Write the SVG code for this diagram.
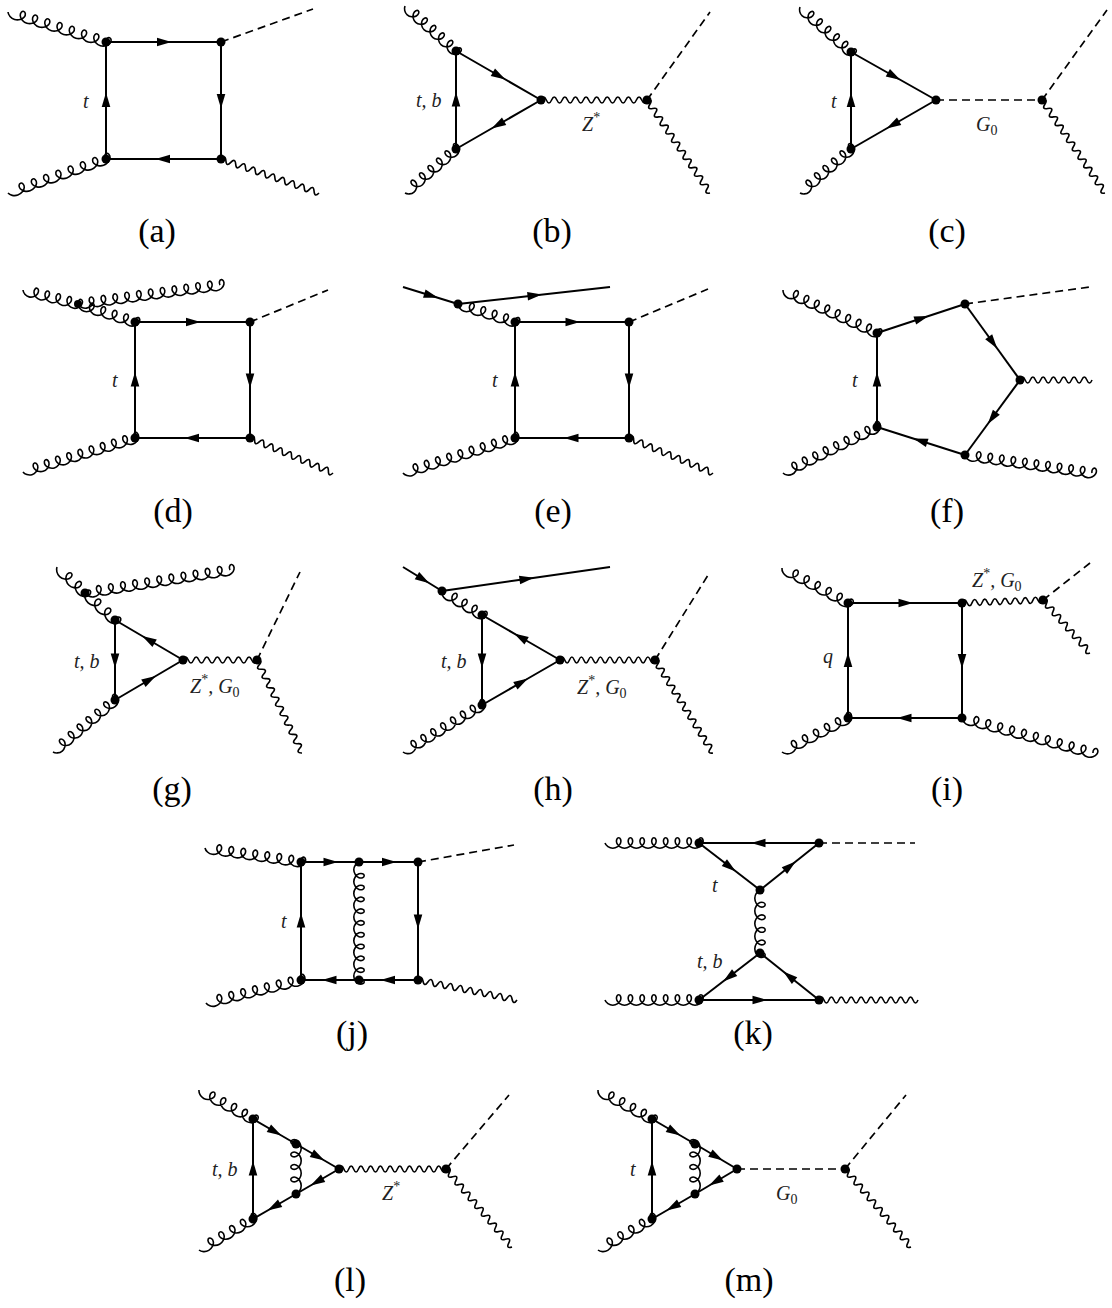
<svg xmlns="http://www.w3.org/2000/svg" xmlns:xlink="http://www.w3.org/1999/xlink" width="1112" height="1308" viewBox="0 0 1112 1308">
<style>
.f{fill:none;stroke:#000;stroke-width:2;marker-mid:url(#ar)}
.d{fill:none;stroke:#000;stroke-width:1.7;stroke-dasharray:8 5}
.g{fill:none;stroke:#000;stroke-width:1.6;vector-effect:non-scaling-stroke;stroke-linejoin:round}
.v{fill:#000}
.m{font-family:"Liberation Serif","Times New Roman",serif;font-style:italic;font-size:20px;fill:#222}
.sup,.sub{font-style:normal;font-size:14px}
.c{font-family:"Liberation Serif","Times New Roman",serif;font-size:34px;text-anchor:middle;fill:#000}
</style>
<defs>
<marker id="ar" markerUnits="userSpaceOnUse" viewBox="-10 -10 20 20" markerWidth="20" markerHeight="20" refX="0" refY="0" orient="auto" overflow="visible"><path d="M8,0 L-6.5,-4.3 L-6.5,4.3 Z" fill="#000"/></marker>
<path id="g3" class="g" d="M0,0c1.047,2.723 4.571,5.2 8.341,5.2 3.77,0 7.295,-2.477 8.342,-5.2 1.047,-2.723 -.383,-5.2 -2.059,-5.2 -1.676,0 -3.105,2.477 -2.058,5.2 1.047,2.723 4.571,5.2 8.341,5.2 3.77,0 7.295,-2.477 8.342,-5.2 1.047,-2.723 -.383,-5.2 -2.059,-5.2 -1.676,0 -3.105,2.477 -2.058,5.2 1.047,2.723 4.571,5.2 8.341,5.2 3.77,0 7.295,-2.477 8.342,-5.2 1.047,-2.723 -.383,-5.2 -2.059,-5.2 -1.676,0 -3.105,2.477 -2.058,5.2"/>
<path id="g4" class="g" d="M0,0c1.047,2.723 4.571,5.2 8.341,5.2 3.77,0 7.295,-2.477 8.342,-5.2 1.047,-2.723 -.383,-5.2 -2.059,-5.2 -1.676,0 -3.105,2.477 -2.058,5.2 1.047,2.723 4.571,5.2 8.341,5.2 3.77,0 7.295,-2.477 8.342,-5.2 1.047,-2.723 -.383,-5.2 -2.059,-5.2 -1.676,0 -3.105,2.477 -2.058,5.2 1.047,2.723 4.571,5.2 8.341,5.2 3.77,0 7.295,-2.477 8.342,-5.2 1.047,-2.723 -.383,-5.2 -2.059,-5.2 -1.676,0 -3.105,2.477 -2.058,5.2 1.047,2.723 4.571,5.2 8.341,5.2 3.77,0 7.295,-2.477 8.342,-5.2 1.047,-2.723 -.383,-5.2 -2.059,-5.2 -1.676,0 -3.105,2.477 -2.058,5.2"/>
<path id="g5" class="g" d="M0,0c1.047,2.723 4.571,5.2 8.341,5.2 3.77,0 7.295,-2.477 8.342,-5.2 1.047,-2.723 -.383,-5.2 -2.059,-5.2 -1.676,0 -3.105,2.477 -2.058,5.2 1.047,2.723 4.571,5.2 8.341,5.2 3.77,0 7.295,-2.477 8.342,-5.2 1.047,-2.723 -.383,-5.2 -2.059,-5.2 -1.676,0 -3.105,2.477 -2.058,5.2 1.047,2.723 4.571,5.2 8.341,5.2 3.77,0 7.295,-2.477 8.342,-5.2 1.047,-2.723 -.383,-5.2 -2.059,-5.2 -1.676,0 -3.105,2.477 -2.058,5.2 1.047,2.723 4.571,5.2 8.341,5.2 3.77,0 7.295,-2.477 8.342,-5.2 1.047,-2.723 -.383,-5.2 -2.059,-5.2 -1.676,0 -3.105,2.477 -2.058,5.2 1.047,2.723 4.571,5.2 8.341,5.2 3.77,0 7.295,-2.477 8.342,-5.2 1.047,-2.723 -.383,-5.2 -2.059,-5.2 -1.676,0 -3.105,2.477 -2.058,5.2"/>
<path id="g6" class="g" d="M0,0c1.047,2.723 4.571,5.2 8.341,5.2 3.77,0 7.295,-2.477 8.342,-5.2 1.047,-2.723 -.383,-5.2 -2.059,-5.2 -1.676,0 -3.105,2.477 -2.058,5.2 1.047,2.723 4.571,5.2 8.341,5.2 3.77,0 7.295,-2.477 8.342,-5.2 1.047,-2.723 -.383,-5.2 -2.059,-5.2 -1.676,0 -3.105,2.477 -2.058,5.2 1.047,2.723 4.571,5.2 8.341,5.2 3.77,0 7.295,-2.477 8.342,-5.2 1.047,-2.723 -.383,-5.2 -2.059,-5.2 -1.676,0 -3.105,2.477 -2.058,5.2 1.047,2.723 4.571,5.2 8.341,5.2 3.77,0 7.295,-2.477 8.342,-5.2 1.047,-2.723 -.383,-5.2 -2.059,-5.2 -1.676,0 -3.105,2.477 -2.058,5.2 1.047,2.723 4.571,5.2 8.341,5.2 3.77,0 7.295,-2.477 8.342,-5.2 1.047,-2.723 -.383,-5.2 -2.059,-5.2 -1.676,0 -3.105,2.477 -2.058,5.2 1.047,2.723 4.571,5.2 8.341,5.2 3.77,0 7.295,-2.477 8.342,-5.2 1.047,-2.723 -.383,-5.2 -2.059,-5.2 -1.676,0 -3.105,2.477 -2.058,5.2"/>
<path id="g7" class="g" d="M0,0c1.047,2.723 4.571,5.2 8.341,5.2 3.77,0 7.295,-2.477 8.342,-5.2 1.047,-2.723 -.383,-5.2 -2.059,-5.2 -1.676,0 -3.105,2.477 -2.058,5.2 1.047,2.723 4.571,5.2 8.341,5.2 3.77,0 7.295,-2.477 8.342,-5.2 1.047,-2.723 -.383,-5.2 -2.059,-5.2 -1.676,0 -3.105,2.477 -2.058,5.2 1.047,2.723 4.571,5.2 8.341,5.2 3.77,0 7.295,-2.477 8.342,-5.2 1.047,-2.723 -.383,-5.2 -2.059,-5.2 -1.676,0 -3.105,2.477 -2.058,5.2 1.047,2.723 4.571,5.2 8.341,5.2 3.77,0 7.295,-2.477 8.342,-5.2 1.047,-2.723 -.383,-5.2 -2.059,-5.2 -1.676,0 -3.105,2.477 -2.058,5.2 1.047,2.723 4.571,5.2 8.341,5.2 3.77,0 7.295,-2.477 8.342,-5.2 1.047,-2.723 -.383,-5.2 -2.059,-5.2 -1.676,0 -3.105,2.477 -2.058,5.2 1.047,2.723 4.571,5.2 8.341,5.2 3.77,0 7.295,-2.477 8.342,-5.2 1.047,-2.723 -.383,-5.2 -2.059,-5.2 -1.676,0 -3.105,2.477 -2.058,5.2 1.047,2.723 4.571,5.2 8.341,5.2 3.77,0 7.295,-2.477 8.342,-5.2 1.047,-2.723 -.383,-5.2 -2.059,-5.2 -1.676,0 -3.105,2.477 -2.058,5.2"/>
<path id="g8" class="g" d="M0,0c1.047,2.723 4.571,5.2 8.341,5.2 3.77,0 7.295,-2.477 8.342,-5.2 1.047,-2.723 -.383,-5.2 -2.059,-5.2 -1.676,0 -3.105,2.477 -2.058,5.2 1.047,2.723 4.571,5.2 8.341,5.2 3.77,0 7.295,-2.477 8.342,-5.2 1.047,-2.723 -.383,-5.2 -2.059,-5.2 -1.676,0 -3.105,2.477 -2.058,5.2 1.047,2.723 4.571,5.2 8.341,5.2 3.77,0 7.295,-2.477 8.342,-5.2 1.047,-2.723 -.383,-5.2 -2.059,-5.2 -1.676,0 -3.105,2.477 -2.058,5.2 1.047,2.723 4.571,5.2 8.341,5.2 3.77,0 7.295,-2.477 8.342,-5.2 1.047,-2.723 -.383,-5.2 -2.059,-5.2 -1.676,0 -3.105,2.477 -2.058,5.2 1.047,2.723 4.571,5.2 8.341,5.2 3.77,0 7.295,-2.477 8.342,-5.2 1.047,-2.723 -.383,-5.2 -2.059,-5.2 -1.676,0 -3.105,2.477 -2.058,5.2 1.047,2.723 4.571,5.2 8.341,5.2 3.77,0 7.295,-2.477 8.342,-5.2 1.047,-2.723 -.383,-5.2 -2.059,-5.2 -1.676,0 -3.105,2.477 -2.058,5.2 1.047,2.723 4.571,5.2 8.341,5.2 3.77,0 7.295,-2.477 8.342,-5.2 1.047,-2.723 -.383,-5.2 -2.059,-5.2 -1.676,0 -3.105,2.477 -2.058,5.2 1.047,2.723 4.571,5.2 8.341,5.2 3.77,0 7.295,-2.477 8.342,-5.2 1.047,-2.723 -.383,-5.2 -2.059,-5.2 -1.676,0 -3.105,2.477 -2.058,5.2"/>
<path id="g9" class="g" d="M0,0c1.047,2.723 4.571,5.2 8.341,5.2 3.77,0 7.295,-2.477 8.342,-5.2 1.047,-2.723 -.383,-5.2 -2.059,-5.2 -1.676,0 -3.105,2.477 -2.058,5.2 1.047,2.723 4.571,5.2 8.341,5.2 3.77,0 7.295,-2.477 8.342,-5.2 1.047,-2.723 -.383,-5.2 -2.059,-5.2 -1.676,0 -3.105,2.477 -2.058,5.2 1.047,2.723 4.571,5.2 8.341,5.2 3.77,0 7.295,-2.477 8.342,-5.2 1.047,-2.723 -.383,-5.2 -2.059,-5.2 -1.676,0 -3.105,2.477 -2.058,5.2 1.047,2.723 4.571,5.2 8.341,5.2 3.77,0 7.295,-2.477 8.342,-5.2 1.047,-2.723 -.383,-5.2 -2.059,-5.2 -1.676,0 -3.105,2.477 -2.058,5.2 1.047,2.723 4.571,5.2 8.341,5.2 3.77,0 7.295,-2.477 8.342,-5.2 1.047,-2.723 -.383,-5.2 -2.059,-5.2 -1.676,0 -3.105,2.477 -2.058,5.2 1.047,2.723 4.571,5.2 8.341,5.2 3.77,0 7.295,-2.477 8.342,-5.2 1.047,-2.723 -.383,-5.2 -2.059,-5.2 -1.676,0 -3.105,2.477 -2.058,5.2 1.047,2.723 4.571,5.2 8.341,5.2 3.77,0 7.295,-2.477 8.342,-5.2 1.047,-2.723 -.383,-5.2 -2.059,-5.2 -1.676,0 -3.105,2.477 -2.058,5.2 1.047,2.723 4.571,5.2 8.341,5.2 3.77,0 7.295,-2.477 8.342,-5.2 1.047,-2.723 -.383,-5.2 -2.059,-5.2 -1.676,0 -3.105,2.477 -2.058,5.2 1.047,2.723 4.571,5.2 8.341,5.2 3.77,0 7.295,-2.477 8.342,-5.2 1.047,-2.723 -.383,-5.2 -2.059,-5.2 -1.676,0 -3.105,2.477 -2.058,5.2"/>
<path id="g10" class="g" d="M0,0c1.047,2.723 4.571,5.2 8.341,5.2 3.77,0 7.295,-2.477 8.342,-5.2 1.047,-2.723 -.383,-5.2 -2.059,-5.2 -1.676,0 -3.105,2.477 -2.058,5.2 1.047,2.723 4.571,5.2 8.341,5.2 3.77,0 7.295,-2.477 8.342,-5.2 1.047,-2.723 -.383,-5.2 -2.059,-5.2 -1.676,0 -3.105,2.477 -2.058,5.2 1.047,2.723 4.571,5.2 8.341,5.2 3.77,0 7.295,-2.477 8.342,-5.2 1.047,-2.723 -.383,-5.2 -2.059,-5.2 -1.676,0 -3.105,2.477 -2.058,5.2 1.047,2.723 4.571,5.2 8.341,5.2 3.77,0 7.295,-2.477 8.342,-5.2 1.047,-2.723 -.383,-5.2 -2.059,-5.2 -1.676,0 -3.105,2.477 -2.058,5.2 1.047,2.723 4.571,5.2 8.341,5.2 3.77,0 7.295,-2.477 8.342,-5.2 1.047,-2.723 -.383,-5.2 -2.059,-5.2 -1.676,0 -3.105,2.477 -2.058,5.2 1.047,2.723 4.571,5.2 8.341,5.2 3.77,0 7.295,-2.477 8.342,-5.2 1.047,-2.723 -.383,-5.2 -2.059,-5.2 -1.676,0 -3.105,2.477 -2.058,5.2 1.047,2.723 4.571,5.2 8.341,5.2 3.77,0 7.295,-2.477 8.342,-5.2 1.047,-2.723 -.383,-5.2 -2.059,-5.2 -1.676,0 -3.105,2.477 -2.058,5.2 1.047,2.723 4.571,5.2 8.341,5.2 3.77,0 7.295,-2.477 8.342,-5.2 1.047,-2.723 -.383,-5.2 -2.059,-5.2 -1.676,0 -3.105,2.477 -2.058,5.2 1.047,2.723 4.571,5.2 8.341,5.2 3.77,0 7.295,-2.477 8.342,-5.2 1.047,-2.723 -.383,-5.2 -2.059,-5.2 -1.676,0 -3.105,2.477 -2.058,5.2 1.047,2.723 4.571,5.2 8.341,5.2 3.77,0 7.295,-2.477 8.342,-5.2 1.047,-2.723 -.383,-5.2 -2.059,-5.2 -1.676,0 -3.105,2.477 -2.058,5.2"/>
<path id="g11" class="g" d="M0,0c1.047,2.723 4.571,5.2 8.341,5.2 3.77,0 7.295,-2.477 8.342,-5.2 1.047,-2.723 -.383,-5.2 -2.059,-5.2 -1.676,0 -3.105,2.477 -2.058,5.2 1.047,2.723 4.571,5.2 8.341,5.2 3.77,0 7.295,-2.477 8.342,-5.2 1.047,-2.723 -.383,-5.2 -2.059,-5.2 -1.676,0 -3.105,2.477 -2.058,5.2 1.047,2.723 4.571,5.2 8.341,5.2 3.77,0 7.295,-2.477 8.342,-5.2 1.047,-2.723 -.383,-5.2 -2.059,-5.2 -1.676,0 -3.105,2.477 -2.058,5.2 1.047,2.723 4.571,5.2 8.341,5.2 3.77,0 7.295,-2.477 8.342,-5.2 1.047,-2.723 -.383,-5.2 -2.059,-5.2 -1.676,0 -3.105,2.477 -2.058,5.2 1.047,2.723 4.571,5.2 8.341,5.2 3.77,0 7.295,-2.477 8.342,-5.2 1.047,-2.723 -.383,-5.2 -2.059,-5.2 -1.676,0 -3.105,2.477 -2.058,5.2 1.047,2.723 4.571,5.2 8.341,5.2 3.77,0 7.295,-2.477 8.342,-5.2 1.047,-2.723 -.383,-5.2 -2.059,-5.2 -1.676,0 -3.105,2.477 -2.058,5.2 1.047,2.723 4.571,5.2 8.341,5.2 3.77,0 7.295,-2.477 8.342,-5.2 1.047,-2.723 -.383,-5.2 -2.059,-5.2 -1.676,0 -3.105,2.477 -2.058,5.2 1.047,2.723 4.571,5.2 8.341,5.2 3.77,0 7.295,-2.477 8.342,-5.2 1.047,-2.723 -.383,-5.2 -2.059,-5.2 -1.676,0 -3.105,2.477 -2.058,5.2 1.047,2.723 4.571,5.2 8.341,5.2 3.77,0 7.295,-2.477 8.342,-5.2 1.047,-2.723 -.383,-5.2 -2.059,-5.2 -1.676,0 -3.105,2.477 -2.058,5.2 1.047,2.723 4.571,5.2 8.341,5.2 3.77,0 7.295,-2.477 8.342,-5.2 1.047,-2.723 -.383,-5.2 -2.059,-5.2 -1.676,0 -3.105,2.477 -2.058,5.2 1.047,2.723 4.571,5.2 8.341,5.2 3.77,0 7.295,-2.477 8.342,-5.2 1.047,-2.723 -.383,-5.2 -2.059,-5.2 -1.676,0 -3.105,2.477 -2.058,5.2"/>
<path id="g12" class="g" d="M0,0c1.047,2.723 4.571,5.2 8.341,5.2 3.77,0 7.295,-2.477 8.342,-5.2 1.047,-2.723 -.383,-5.2 -2.059,-5.2 -1.676,0 -3.105,2.477 -2.058,5.2 1.047,2.723 4.571,5.2 8.341,5.2 3.77,0 7.295,-2.477 8.342,-5.2 1.047,-2.723 -.383,-5.2 -2.059,-5.2 -1.676,0 -3.105,2.477 -2.058,5.2 1.047,2.723 4.571,5.2 8.341,5.2 3.77,0 7.295,-2.477 8.342,-5.2 1.047,-2.723 -.383,-5.2 -2.059,-5.2 -1.676,0 -3.105,2.477 -2.058,5.2 1.047,2.723 4.571,5.2 8.341,5.2 3.77,0 7.295,-2.477 8.342,-5.2 1.047,-2.723 -.383,-5.2 -2.059,-5.2 -1.676,0 -3.105,2.477 -2.058,5.2 1.047,2.723 4.571,5.2 8.341,5.2 3.77,0 7.295,-2.477 8.342,-5.2 1.047,-2.723 -.383,-5.2 -2.059,-5.2 -1.676,0 -3.105,2.477 -2.058,5.2 1.047,2.723 4.571,5.2 8.341,5.2 3.77,0 7.295,-2.477 8.342,-5.2 1.047,-2.723 -.383,-5.2 -2.059,-5.2 -1.676,0 -3.105,2.477 -2.058,5.2 1.047,2.723 4.571,5.2 8.341,5.2 3.77,0 7.295,-2.477 8.342,-5.2 1.047,-2.723 -.383,-5.2 -2.059,-5.2 -1.676,0 -3.105,2.477 -2.058,5.2 1.047,2.723 4.571,5.2 8.341,5.2 3.77,0 7.295,-2.477 8.342,-5.2 1.047,-2.723 -.383,-5.2 -2.059,-5.2 -1.676,0 -3.105,2.477 -2.058,5.2 1.047,2.723 4.571,5.2 8.341,5.2 3.77,0 7.295,-2.477 8.342,-5.2 1.047,-2.723 -.383,-5.2 -2.059,-5.2 -1.676,0 -3.105,2.477 -2.058,5.2 1.047,2.723 4.571,5.2 8.341,5.2 3.77,0 7.295,-2.477 8.342,-5.2 1.047,-2.723 -.383,-5.2 -2.059,-5.2 -1.676,0 -3.105,2.477 -2.058,5.2 1.047,2.723 4.571,5.2 8.341,5.2 3.77,0 7.295,-2.477 8.342,-5.2 1.047,-2.723 -.383,-5.2 -2.059,-5.2 -1.676,0 -3.105,2.477 -2.058,5.2 1.047,2.723 4.571,5.2 8.341,5.2 3.77,0 7.295,-2.477 8.342,-5.2 1.047,-2.723 -.383,-5.2 -2.059,-5.2 -1.676,0 -3.105,2.477 -2.058,5.2"/>
<path id="w7" class="g" d="M0,0c1.67,-4 3.33,-4 5,0 1.67,4 3.33,4 5,0 1.67,-4 3.33,-4 5,0 1.67,4 3.33,4 5,0 1.67,-4 3.33,-4 5,0 1.67,4 3.33,4 5,0 1.67,-4 3.33,-4 5,0 1.67,4 3.33,4 5,0 1.67,-4 3.33,-4 5,0 1.67,4 3.33,4 5,0 1.67,-4 3.33,-4 5,0 1.67,4 3.33,4 5,0 1.67,-4 3.33,-4 5,0 1.67,4 3.33,4 5,0"/>
<path id="w8" class="g" d="M0,0c1.67,-4 3.33,-4 5,0 1.67,4 3.33,4 5,0 1.67,-4 3.33,-4 5,0 1.67,4 3.33,4 5,0 1.67,-4 3.33,-4 5,0 1.67,4 3.33,4 5,0 1.67,-4 3.33,-4 5,0 1.67,4 3.33,4 5,0 1.67,-4 3.33,-4 5,0 1.67,4 3.33,4 5,0 1.67,-4 3.33,-4 5,0 1.67,4 3.33,4 5,0 1.67,-4 3.33,-4 5,0 1.67,4 3.33,4 5,0 1.67,-4 3.33,-4 5,0 1.67,4 3.33,4 5,0"/>
<path id="w9" class="g" d="M0,0c1.67,-4 3.33,-4 5,0 1.67,4 3.33,4 5,0 1.67,-4 3.33,-4 5,0 1.67,4 3.33,4 5,0 1.67,-4 3.33,-4 5,0 1.67,4 3.33,4 5,0 1.67,-4 3.33,-4 5,0 1.67,4 3.33,4 5,0 1.67,-4 3.33,-4 5,0 1.67,4 3.33,4 5,0 1.67,-4 3.33,-4 5,0 1.67,4 3.33,4 5,0 1.67,-4 3.33,-4 5,0 1.67,4 3.33,4 5,0 1.67,-4 3.33,-4 5,0 1.67,4 3.33,4 5,0 1.67,-4 3.33,-4 5,0 1.67,4 3.33,4 5,0"/>
<path id="w10" class="g" d="M0,0c1.67,-4 3.33,-4 5,0 1.67,4 3.33,4 5,0 1.67,-4 3.33,-4 5,0 1.67,4 3.33,4 5,0 1.67,-4 3.33,-4 5,0 1.67,4 3.33,4 5,0 1.67,-4 3.33,-4 5,0 1.67,4 3.33,4 5,0 1.67,-4 3.33,-4 5,0 1.67,4 3.33,4 5,0 1.67,-4 3.33,-4 5,0 1.67,4 3.33,4 5,0 1.67,-4 3.33,-4 5,0 1.67,4 3.33,4 5,0 1.67,-4 3.33,-4 5,0 1.67,4 3.33,4 5,0 1.67,-4 3.33,-4 5,0 1.67,4 3.33,4 5,0 1.67,-4 3.33,-4 5,0 1.67,4 3.33,4 5,0"/>
<path id="w11" class="g" d="M0,0c1.67,-4 3.33,-4 5,0 1.67,4 3.33,4 5,0 1.67,-4 3.33,-4 5,0 1.67,4 3.33,4 5,0 1.67,-4 3.33,-4 5,0 1.67,4 3.33,4 5,0 1.67,-4 3.33,-4 5,0 1.67,4 3.33,4 5,0 1.67,-4 3.33,-4 5,0 1.67,4 3.33,4 5,0 1.67,-4 3.33,-4 5,0 1.67,4 3.33,4 5,0 1.67,-4 3.33,-4 5,0 1.67,4 3.33,4 5,0 1.67,-4 3.33,-4 5,0 1.67,4 3.33,4 5,0 1.67,-4 3.33,-4 5,0 1.67,4 3.33,4 5,0 1.67,-4 3.33,-4 5,0 1.67,4 3.33,4 5,0 1.67,-4 3.33,-4 5,0 1.67,4 3.33,4 5,0"/>
</defs>
<rect width="1112" height="1308" fill="#fff"/>

<g id="diagram-a">
<g class="connectors">
<path class="f" d="M106,42 L163.5,42 221,42"/>
<path class="f" d="M221,42 L221,100.5 221,159"/>
<path class="f" d="M221,159 L163.5,159 106,159"/>
<path class="f" d="M106,159 L106,100.5 106,42"/>
<path class="d" d="M221,42 L313,9"/>
<use href="#g8" transform="translate(8,12) rotate(17.02) scale(1.02,1)"/>
<use href="#g8" transform="translate(8,193) rotate(-19.13) scale(1.032,1)"/>
<use href="#w10" transform="translate(221,159) rotate(19.13) scale(1.037,1)"/>
</g>
<g class="vertices"><circle class="v" cx="106" cy="42" r="4.5"/><circle class="v" cx="221" cy="42" r="4.5"/><circle class="v" cx="106" cy="159" r="4.5"/><circle class="v" cx="221" cy="159" r="4.5"/></g>
<text class="m" x="83" y="108">t</text>
<text class="c" x="157" y="242">(a)</text>
</g>

<g id="diagram-b">
<g class="connectors">
<path class="f" d="M456,51 L498.5,75.5 541,100"/>
<path class="f" d="M541,100 L498.5,124.5 456,149"/>
<path class="f" d="M456,149 L456,100 456,51"/>
<path class="d" d="M647,100 L710,12"/>
<use href="#g6" transform="translate(405,6) rotate(41.42) scale(.902,1)"/>
<use href="#g6" transform="translate(405,193) rotate(-40.78) scale(.893,1)"/>
<use href="#w10" transform="translate(541,100) scale(1.06,1)"/>
<use href="#w11" transform="translate(647,100) rotate(55.88) scale(1.021,1)"/>
</g>
<g class="vertices"><circle class="v" cx="456" cy="51" r="4.5"/><circle class="v" cx="456" cy="149" r="4.5"/><circle class="v" cx="541" cy="100" r="4.5"/><circle class="v" cx="647" cy="100" r="4.5"/></g>
<text class="m" x="416" y="107">t, b</text>
<text class="m" x="582" y="131">Z<tspan class="sup" dy="-9">*</tspan></text>
<text class="c" x="552" y="242">(b)</text>
</g>

<g id="diagram-c">
<g class="connectors">
<path class="f" d="M851,52 L893.5,76 936,100"/>
<path class="f" d="M936,100 L893.5,124.5 851,149"/>
<path class="f" d="M851,149 L851,100.5 851,52"/>
<path class="d" d="M936,100 L1042,100"/>
<path class="d" d="M1042,100 L1107,10"/>
<use href="#g6" transform="translate(800,7) rotate(41.42) scale(.902,1)"/>
<use href="#g6" transform="translate(800,193) rotate(-40.78) scale(.893,1)"/>
<use href="#w11" transform="translate(1042,100) rotate(55.88) scale(1.021,1)"/>
</g>
<g class="vertices"><circle class="v" cx="851" cy="52" r="4.5"/><circle class="v" cx="851" cy="149" r="4.5"/><circle class="v" cx="936" cy="100" r="4.5"/><circle class="v" cx="1042" cy="100" r="4.5"/></g>
<text class="m" x="831" y="108">t</text>
<text class="m" x="976" y="131">G<tspan class="sub" dy="4">0</tspan></text>
<text class="c" x="947" y="242">(c)</text>
</g>

<g id="diagram-d">
<g class="connectors">
<path class="f" d="M135,322 L192.5,322 250,322"/>
<path class="f" d="M250,322 L250,380 250,438"/>
<path class="f" d="M250,438 L192.5,438 135,438"/>
<path class="f" d="M135,438 L135,380 135,322"/>
<path class="d" d="M250,322 L328,290"/>
<use href="#g5" transform="translate(23,290) rotate(14.28) scale(.903,1)"/>
<use href="#g5" transform="translate(78,304) rotate(17.53) scale(.951,1)"/>
<use href="#g12" transform="translate(78,304) rotate(-7.62) scale(.95,1)"/>
<use href="#g10" transform="translate(23,472) rotate(-16.89) scale(.931,1)"/>
<use href="#w9" transform="translate(250,438) rotate(22.87) scale(1.001,1)"/>
</g>
<g class="vertices"><circle class="v" cx="135" cy="322" r="4.5"/><circle class="v" cx="250" cy="322" r="4.5"/><circle class="v" cx="135" cy="438" r="4.5"/><circle class="v" cx="250" cy="438" r="4.5"/><circle class="v" cx="78" cy="304" r="4"/></g>
<text class="m" x="112" y="387">t</text>
<text class="c" x="173" y="522">(d)</text>
</g>

<g id="diagram-e">
<g class="connectors">
<path class="f" d="M515,322 L572,322 629,322"/>
<path class="f" d="M629,322 L629,380 629,438"/>
<path class="f" d="M629,438 L572,438 515,438"/>
<path class="f" d="M515,438 L515,380 515,322"/>
<path class="f" d="M403,287 L430.5,295.5 458,304"/>
<path class="f" d="M458,304 L534,295.5 610,287"/>
<path class="d" d="M629,322 L708,289"/>
<use href="#g5" transform="translate(458,304) rotate(17.53) scale(.951,1)"/>
<use href="#g10" transform="translate(403,473) rotate(-17.35) scale(.934,1)"/>
<use href="#w9" transform="translate(629,438) rotate(22.62) scale(1.011,1)"/>
</g>
<g class="vertices"><circle class="v" cx="515" cy="322" r="4.5"/><circle class="v" cx="629" cy="322" r="4.5"/><circle class="v" cx="515" cy="438" r="4.5"/><circle class="v" cx="629" cy="438" r="4.5"/><circle class="v" cx="458" cy="304" r="4.5"/></g>
<text class="m" x="492" y="387">t</text>
<text class="c" x="553" y="522">(e)</text>
</g>

<g id="diagram-f">
<g class="connectors">
<path class="f" d="M877,427 L877,380 877,333"/>
<path class="f" d="M877,333 L921,318.5 965,304"/>
<path class="f" d="M965,304 L992.5,342 1020,380"/>
<path class="f" d="M1020,380 L992.5,417.5 965,455"/>
<path class="f" d="M965,455 L921,441 877,427"/>
<path class="d" d="M965,304 L1090,287"/>
<use href="#g9" transform="translate(783,290) rotate(24.58) scale(.914,1)"/>
<use href="#g9" transform="translate(783,473) rotate(-26.07) scale(.925,1)"/>
<use href="#g11" transform="translate(965,455) rotate(8.07) scale(.928,1)"/>
<use href="#w7" transform="translate(1020,380) scale(1.029,1)"/>
</g>
<g class="vertices"><circle class="v" cx="877" cy="333" r="4.5"/><circle class="v" cx="877" cy="427" r="4.5"/><circle class="v" cx="965" cy="304" r="4.5"/><circle class="v" cx="1020" cy="380" r="4.5"/><circle class="v" cx="965" cy="455" r="4.5"/></g>
<text class="m" x="852" y="387">t</text>
<text class="c" x="947" y="522">(f)</text>
</g>

<g id="diagram-g">
<g class="connectors">
<path class="f" d="M115,620 L115,660 115,700"/>
<path class="f" d="M115,700 L149,680 183,660"/>
<path class="f" d="M183,660 L149,640 115,620"/>
<path class="d" d="M257,660 L300,572"/>
<use href="#g3" transform="translate(57,567) rotate(42.88) scale(1.014,1)"/>
<use href="#g3" transform="translate(85,593) rotate(41.99) scale(1.071,1)"/>
<use href="#g12" transform="translate(85,593) rotate(-9.01) scale(.974,1)"/>
<use href="#g7" transform="translate(53,752) rotate(-39.99) scale(.92,1)"/>
<use href="#w7" transform="translate(183,660) scale(1.057,1)"/>
<use href="#w10" transform="translate(257,660) rotate(64.18) scale(1.033,1)"/>
</g>
<g class="vertices"><circle class="v" cx="85" cy="593" r="4.5"/><circle class="v" cx="115" cy="620" r="4.5"/><circle class="v" cx="115" cy="700" r="4.5"/><circle class="v" cx="183" cy="660" r="4.5"/><circle class="v" cx="257" cy="660" r="4.5"/></g>
<text class="m" x="74" y="668">t, b</text>
<text class="m" x="190" y="693">Z<tspan class="sup" dy="-9">*</tspan><tspan dy="9">, G</tspan><tspan class="sub" dy="4">0</tspan></text>
<text class="c" x="172" y="800">(g)</text>
</g>

<g id="diagram-h">
<g class="connectors">
<path class="f" d="M482,615 L482,660 482,705"/>
<path class="f" d="M482,705 L521,682.5 560,660"/>
<path class="f" d="M560,660 L521,637.5 482,615"/>
<path class="f" d="M403,567 L422.5,579 442,591"/>
<path class="f" d="M442,591 L526,579 610,567"/>
<path class="d" d="M655,660 L710,572"/>
<use href="#g4" transform="translate(442,591) rotate(30.96) scale(.928,1)"/>
<use href="#g8" transform="translate(403,752) rotate(-30.75) scale(.914,1)"/>
<use href="#w10" transform="translate(560,660) scale(.95,1)"/>
<use href="#w11" transform="translate(655,660) rotate(58.05) scale(.996,1)"/>
</g>
<g class="vertices"><circle class="v" cx="442" cy="591" r="4.5"/><circle class="v" cx="482" cy="615" r="4.5"/><circle class="v" cx="482" cy="705" r="4.5"/><circle class="v" cx="560" cy="660" r="4.5"/><circle class="v" cx="655" cy="660" r="4.5"/></g>
<text class="m" x="441" y="668">t, b</text>
<text class="m" x="577" y="694">Z<tspan class="sup" dy="-9">*</tspan><tspan dy="9">, G</tspan><tspan class="sub" dy="4">0</tspan></text>
<text class="c" x="553" y="800">(h)</text>
</g>

<g id="diagram-i">
<g class="connectors">
<path class="f" d="M848,718 L848,660.5 848,603"/>
<path class="f" d="M848,603 L905,603 962,603"/>
<path class="f" d="M962,603 L962,660.5 962,718"/>
<path class="f" d="M962,718 L905,718 848,718"/>
<path class="d" d="M1043,600 L1090,563"/>
<use href="#g6" transform="translate(782,568) rotate(27.94) scale(.991,1)"/>
<use href="#g6" transform="translate(782,752) rotate(-27.25) scale(.985,1)"/>
<use href="#g11" transform="translate(962,718) rotate(14.96) scale(.981,1)"/>
<use href="#w8" transform="translate(962,603) rotate(-2.12) scale(1.013,1)"/>
<use href="#w7" transform="translate(1043,600) rotate(48.43) scale(1.012,1)"/>
</g>
<g class="vertices"><circle class="v" cx="848" cy="603" r="4.5"/><circle class="v" cx="962" cy="603" r="4.5"/><circle class="v" cx="848" cy="718" r="4.5"/><circle class="v" cx="962" cy="718" r="4.5"/><circle class="v" cx="1043" cy="600" r="4.5"/></g>
<text class="m" x="823" y="663">q</text>
<text class="m" x="972" y="587">Z<tspan class="sup" dy="-9">*</tspan><tspan dy="9">, G</tspan><tspan class="sub" dy="4">0</tspan></text>
<text class="c" x="947" y="800">(i)</text>
</g>

<g id="diagram-j">
<g class="connectors">
<path class="f" d="M301,862 L330,862 359,862"/>
<path class="f" d="M359,862 L388.5,862 418,862"/>
<path class="f" d="M418,862 L418,921 418,980"/>
<path class="f" d="M418,980 L388.5,980 359,980"/>
<path class="f" d="M359,980 L330,980 301,980"/>
<path class="f" d="M301,980 L301,921 301,862"/>
<path class="d" d="M418,862 L514,845"/>
<use href="#g8" transform="translate(205,848) rotate(8.3) scale(.965,1)"/>
<use href="#g8" transform="translate(206,1003) rotate(-13.61) scale(.972,1)"/>
<use href="#g10" transform="translate(359,862) rotate(90) scale(.939,1)"/>
<use href="#w10" transform="translate(418,980) rotate(11.42) scale(1.01,1)"/>
</g>
<g class="vertices"><circle class="v" cx="301" cy="862" r="4.5"/><circle class="v" cx="359" cy="862" r="4.5"/><circle class="v" cx="418" cy="862" r="4.5"/><circle class="v" cx="301" cy="980" r="4.5"/><circle class="v" cx="359" cy="980" r="4.5"/><circle class="v" cx="418" cy="980" r="4.5"/></g>
<text class="m" x="281" y="928">t</text>
<text class="c" x="352" y="1044">(j)</text>
</g>

<g id="diagram-k">
<g class="connectors">
<path class="f" d="M819,843 L759,843 699,843"/>
<path class="f" d="M699,843 L729.5,866.5 760,890"/>
<path class="f" d="M760,890 L789.5,866.5 819,843"/>
<path class="f" d="M760,953 L729.5,976.5 699,1000"/>
<path class="f" d="M699,1000 L759,1000 819,1000"/>
<path class="f" d="M819,1000 L789.5,976.5 760,953"/>
<path class="d" d="M819,843 L915,843"/>
<use href="#g8" transform="translate(605,843) scale(.935,1)"/>
<use href="#g8" transform="translate(605,1000) scale(.935,1)"/>
<use href="#g5" transform="translate(760,890) rotate(90) scale(1.003,1)"/>
<use href="#w10" transform="translate(819,1000) scale(.99,1)"/>
</g>
<g class="vertices"><circle class="v" cx="699" cy="843" r="4.5"/><circle class="v" cx="819" cy="843" r="4.5"/><circle class="v" cx="760" cy="890" r="4.5"/><circle class="v" cx="760" cy="953" r="4.5"/><circle class="v" cx="699" cy="1000" r="4.5"/><circle class="v" cx="819" cy="1000" r="4.5"/></g>
<text class="m" x="712" y="892">t</text>
<text class="m" x="697" y="968">t, b</text>
<text class="c" x="753" y="1044">(k)</text>
</g>

<g id="diagram-l">
<g class="connectors">
<path class="f" d="M253,1219 L253,1169 253,1119"/>
<path class="f" d="M253,1119 L274.5,1131.5 296,1144"/>
<path class="f" d="M296,1144 L317.5,1156.5 339,1169"/>
<path class="f" d="M339,1169 L317.5,1181.5 296,1194"/>
<path class="f" d="M296,1194 L274.5,1206.5 253,1219"/>
<path class="d" d="M446,1169 L509,1095"/>
<use href="#g5" transform="translate(199,1090) rotate(28.24) scale(.975,1)"/>
<use href="#g5" transform="translate(199,1250) rotate(-29.86) scale(.991,1)"/>
<use href="#g4" transform="translate(296,1194) rotate(-90) scale(.995,1)"/>
<use href="#w11" transform="translate(339,1169) scale(.973,1)"/>
<use href="#w10" transform="translate(446,1169) rotate(49.76) scale(1.022,1)"/>
</g>
<g class="vertices"><circle class="v" cx="253" cy="1119" r="4.5"/><circle class="v" cx="296" cy="1144" r="4.5"/><circle class="v" cx="339" cy="1169" r="4.5"/><circle class="v" cx="296" cy="1194" r="4.5"/><circle class="v" cx="253" cy="1219" r="4.5"/><circle class="v" cx="446" cy="1169" r="4.5"/></g>
<text class="m" x="212" y="1176">t, b</text>
<text class="m" x="382" y="1200">Z<tspan class="sup" dy="-9">*</tspan></text>
<text class="c" x="350" y="1291">(l)</text>
</g>

<g id="diagram-m">
<g class="connectors">
<path class="f" d="M652,1219 L652,1169 652,1119"/>
<path class="f" d="M652,1119 L673.5,1131.5 695,1144"/>
<path class="f" d="M695,1144 L716,1156.5 737,1169"/>
<path class="f" d="M737,1169 L716,1181.5 695,1194"/>
<path class="f" d="M695,1194 L673.5,1206.5 652,1219"/>
<path class="d" d="M737,1169 L845,1169"/>
<path class="d" d="M845,1169 L906,1095"/>
<use href="#g5" transform="translate(598,1090) rotate(28.24) scale(.975,1)"/>
<use href="#g5" transform="translate(598,1250) rotate(-29.86) scale(.991,1)"/>
<use href="#g4" transform="translate(695,1194) rotate(-90) scale(.995,1)"/>
<use href="#w10" transform="translate(845,1169) rotate(49.76) scale(1.022,1)"/>
</g>
<g class="vertices"><circle class="v" cx="652" cy="1119" r="4.5"/><circle class="v" cx="695" cy="1144" r="4.5"/><circle class="v" cx="737" cy="1169" r="4.5"/><circle class="v" cx="695" cy="1194" r="4.5"/><circle class="v" cx="652" cy="1219" r="4.5"/><circle class="v" cx="845" cy="1169" r="4.5"/></g>
<text class="m" x="630" y="1176">t</text>
<text class="m" x="776" y="1200">G<tspan class="sub" dy="4">0</tspan></text>
<text class="c" x="749" y="1291">(m)</text>
</g>
</svg>
